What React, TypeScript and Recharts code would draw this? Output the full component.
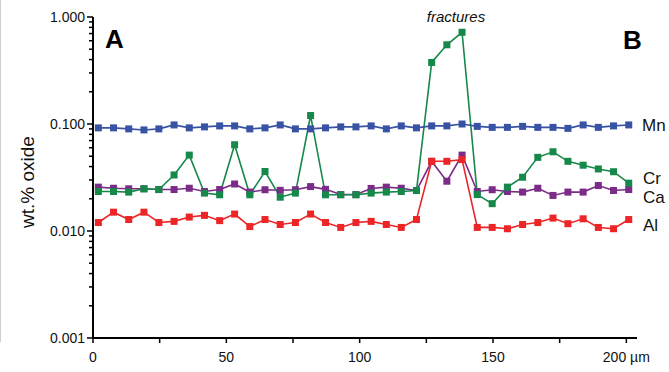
import React from 'react';
import { LineChart, Line, XAxis, YAxis, Customized } from 'recharts';

// distance along the traverse (µm)
const positions = [
  2.0, 7.7, 13.4, 19.1, 24.7, 30.4, 36.1, 41.8, 47.5, 53.1, 58.8, 64.5,
  70.2, 75.9, 81.6, 87.2, 92.9, 98.6, 104.3, 110.0, 115.6, 121.3, 127.0, 132.7,
  138.4, 144.1, 149.7, 155.4, 161.1, 166.8, 172.5, 178.1, 183.8, 189.5, 195.2, 200.9,
];

const mn = [
  0.092, 0.092, 0.090, 0.088, 0.090, 0.098, 0.092, 0.094, 0.096, 0.096, 0.090, 0.092,
  0.098, 0.090, 0.090, 0.092, 0.094, 0.094, 0.096, 0.090, 0.096, 0.092, 0.096, 0.096,
  0.100, 0.095, 0.093, 0.093, 0.095, 0.093, 0.093, 0.091, 0.098, 0.093, 0.096, 0.098,
];

const cr = [
  0.0234, 0.0234, 0.0231, 0.0248, 0.0244, 0.0334, 0.0512, 0.0226, 0.0218, 0.064, 0.0218, 0.036,
  0.0207, 0.0226, 0.120, 0.0218, 0.0218, 0.0218, 0.0226, 0.0231, 0.0234, 0.0239, 0.376, 0.55,
  0.72, 0.0219, 0.0180, 0.0257, 0.0318, 0.0488, 0.055, 0.0448, 0.0412, 0.0380, 0.0358, 0.0280,
];

const ca = [
  0.0257, 0.0251, 0.0248, 0.0248, 0.0244, 0.0244, 0.0251, 0.0234, 0.0244, 0.0275, 0.0231, 0.0243,
  0.0240, 0.0243, 0.0260, 0.0245, 0.0219, 0.0219, 0.0250, 0.0257, 0.0251, 0.0239, 0.0448, 0.0292,
  0.0512, 0.0234, 0.0243, 0.0234, 0.0231, 0.0251, 0.0215, 0.0231, 0.0231, 0.0266, 0.0239, 0.0244,
];

const al = [
  0.0120, 0.0150, 0.0128, 0.0150, 0.0120, 0.0123, 0.0135, 0.0140, 0.0125, 0.0144, 0.0110, 0.0128,
  0.0115, 0.0120, 0.0144, 0.0120, 0.0108, 0.0120, 0.0123, 0.0115, 0.0108, 0.0128, 0.0448, 0.0448,
  0.0465, 0.0108, 0.0108, 0.0105, 0.0115, 0.0120, 0.0132, 0.0117, 0.0130, 0.0108, 0.0105, 0.0128,
];

const xTicks = [0, 25, 50, 75, 100, 125, 150, 175, 200];
const xTickLabels: Record<number, string> = { 0: '0', 50: '50', 100: '100', 150: '150', 200: '200 µm' };
const yMajorTicks = [0.001, 0.01, 0.1, 1];
const yMajorLabels = ['0.001', '0.010', '0.100', '1.000'];
const yMinorMultipliers = [2, 3, 4, 5, 6, 7, 8, 9];

const yTicks: number[] = [];
[0.001, 0.01, 0.1].forEach((d) => {
  yTicks.push(d);
  yMinorMultipliers.forEach((m) => yTicks.push(+(d * m).toPrecision(3)));
});
yTicks.push(1);

const data = positions.map((x, i) => ({ x, mn: mn[i], cr: cr[i], ca: ca[i], al: al[i] }));

const FONT = '"Liberation Sans", Arial, Helvetica, sans-serif';

const COLORS = {
  mn: '#3853a4',
  cr: '#15884a',
  ca: '#7b2b88',
  al: '#ec2527',
};

const YTick = (props: any) => {
  const { x, y, payload } = props;
  const v = payload.value;
  const idx = yMajorTicks.findIndex((t) => Math.abs(t - v) / t < 1e-6);
  const major = idx >= 0;
  return (
    <g>
      <line x1={x} x2={x - (major ? 6 : 4)} y1={y} y2={y} stroke="#000" strokeWidth={1.5} />
      {major && (
        <text x={x - 8} y={y} dy={5} textAnchor="end" fontSize={14} fontFamily={FONT} fill="#111">
          {yMajorLabels[idx]}
        </text>
      )}
    </g>
  );
};

const XTick = (props: any) => {
  const { x, y, payload } = props;
  const label = xTickLabels[payload.value];
  return (
    <g>
      <line x1={x} x2={x} y1={y} y2={y + 5} stroke="#000" strokeWidth={1.5} />
      {label && (
        <text x={x} y={y + 24} textAnchor="middle" fontSize={14} fontFamily={FONT} fill="#111">
          {label}
        </text>
      )}
    </g>
  );
};

const squareDot = (color: string, name: string) => (props: any) => {
  const { cx, cy, index } = props;
  if (cx == null || cy == null) return <g key={`${name}-${index}`} />;
  return <rect key={`${name}-${index}`} x={cx - 3.5} y={cy - 3.5} width={7} height={7} fill={color} />;
};

const Annotations = () => (
  <g fontFamily={FONT}>
    <text x={105} y={48} fontSize={26} fontWeight="bold" fill="#000">A</text>
    <text x={623} y={49} fontSize={26} fontWeight="bold" fill="#000">B</text>
    <text x={456} y={22} fontSize={15} fontStyle="italic" textAnchor="middle" fill="#111">fractures</text>
    <text x={642} y={131} fontSize={17} fill="#111">Mn</text>
    <text x={643} y={184} fontSize={17} fill="#111">Cr</text>
    <text x={643} y={203} fontSize={17} fill="#111">Ca</text>
    <text x={643} y={231} fontSize={17} fill="#111">Al</text>
    <text
      x={0}
      y={0}
      fontSize={19}
      fill="#111"
      textAnchor="middle"
      transform="translate(34,182) rotate(-90)"
    >
      wt.% oxide
    </text>
  </g>
);

export default function App() {
  return (
    <div style={{ position: 'absolute', left: 0, top: 0, width: 669, height: 372, background: '#fff' }}>
      <div style={{ position: 'absolute', left: 0, top: 0, width: 1, height: 342, background: '#cfcfcf' }} />
      <LineChart
        width={669}
        height={372}
        data={data}
        margin={{ top: 17, right: 32, bottom: 0, left: 0 }}
      >
        <XAxis
          type="number"
          dataKey="x"
          domain={[0, 204]}
          ticks={xTicks}
          interval={0}
          height={34}
          tickSize={0}
          tickMargin={0}
          tickLine={false}
          axisLine={{ stroke: '#000', strokeWidth: 2 }}
          tick={<XTick />}
          allowDataOverflow
        />
        <YAxis
          type="number"
          scale="log"
          domain={[0.001, 1]}
          ticks={yTicks}
          interval={0}
          width={93}
          tickSize={0}
          tickMargin={0}
          tickLine={false}
          axisLine={{ stroke: '#000', strokeWidth: 2 }}
          tick={<YTick />}
          allowDataOverflow
        />
        <Line dataKey="ca" stroke={COLORS.ca} strokeWidth={1.6} dot={squareDot(COLORS.ca, 'ca')} activeDot={false} isAnimationActive={false} />
        <Line dataKey="cr" stroke={COLORS.cr} strokeWidth={1.6} dot={squareDot(COLORS.cr, 'cr')} activeDot={false} isAnimationActive={false} />
        <Line dataKey="al" stroke={COLORS.al} strokeWidth={1.6} dot={squareDot(COLORS.al, 'al')} activeDot={false} isAnimationActive={false} />
        <Line dataKey="mn" stroke={COLORS.mn} strokeWidth={1.6} dot={squareDot(COLORS.mn, 'mn')} activeDot={false} isAnimationActive={false} />
        <Customized component={Annotations} />
      </LineChart>
    </div>
  );
}
